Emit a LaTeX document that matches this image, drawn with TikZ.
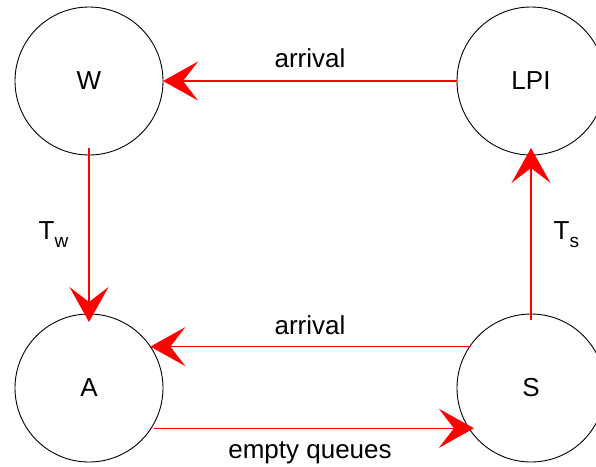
\documentclass[tikz,border=0pt]{standalone}
\usepackage{fontspec}
\setmainfont{Liberation Sans}
\usepackage{tikz}
\usetikzlibrary{shapes.geometric, arrows.meta, positioning}
\tikzstyle{arrow} = [draw=red, line width=1.4pt, -{Stealth[length=35pt, width=39pt, inset=15pt]}]
\tikzstyle{state} = [circle, draw=black, line width=0.9pt, minimum size=148pt, inner sep=0pt, outer sep=0pt]
\tikzstyle{edgetext} = [inner sep=0pt]
\newcommand{\lowsub}[1]{\raisebox{-8pt}{\fontsize{19}{19}\selectfont #1}}

\begin{document}
\begin{tikzpicture}[font=\fontsize{26}{31}\selectfont]
  \useasboundingbox (-89pt,81pt) rectangle (507pt,-385pt);

  % States
  \node (W) [state] {W};
  \node (LPI) [state, right=294pt of W] {LPI};
  \node (A) [state, below=159pt of W] {A};
  \node (S) [state, right=294pt of A] {S};

  % Transitions
  \draw[arrow] (LPI.west) -- node[edgetext, above=13pt] {arrival} (W.east);
  \draw[arrow, shorten <=-7pt, shorten >=-8pt] (W.south) -- node[edgetext, left=20pt] {T\lowsub{w}} (A.north);
  \draw[arrow, shorten <=-6pt, shorten >=-7pt] (S.north) -- node[edgetext, right=22pt] {T\lowsub{s}} (LPI.south);
  \draw[arrow] (S.146) -- node[edgetext, above=11pt] {arrival} (A.34);
  \draw[arrow, shorten <=3pt, shorten >=-5pt] (A.-33) -- node[edgetext, below=13pt] {empty queues} (S.-147);

\end{tikzpicture}
\end{document}
